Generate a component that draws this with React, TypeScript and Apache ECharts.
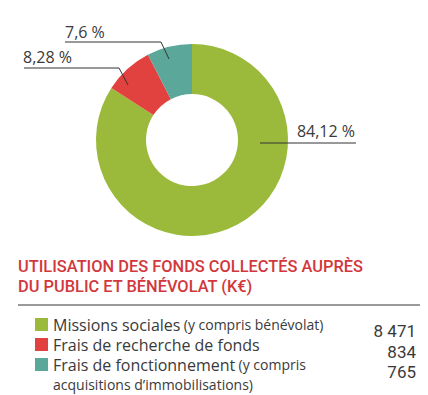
import React, { useEffect, useRef } from "react";
import * as echarts from "echarts";

// ---- data ----
const categories = ["Missions sociales", "Frais de recherche de fonds", "Frais de fonctionnement"];
const notes = ["(y compris bénévolat)", "", "(y compris"];
const noteContinuation = "acquisitions d\u2019immobilisations)";
const values = [8471, 834, 765];
const colors = ["#9BBA3B", "#E2423F", "#5BA89B"];
const titleLines = ["UTILISATION DES FONDS COLLECTÉS AUPRÈS", "DU PUBLIC ET BÉNÉVOLAT (K€)"];

// ---- layout (not data) ----
const CENTER: [number, number] = [192, 140];
const RADIUS: [number, number] = [46, 96];
const LABEL_LAYOUT = [
  { x: 355, y: 131, align: "right", points: [[260, 143], [356, 143]] },
  { x: 23, y: 57, align: "left", points: [[128, 85], [119, 68], [24, 68]] },
  { x: 65, y: 32, align: "left", points: [[169, 59], [161, 42], [65, 42]] },
];

const total = values.reduce((a, b) => a + b, 0);
const fmtPct = (v: number) =>
  String(Math.round((v / total) * 10000) / 100).replace(".", ",") + " %";
const fmtNum = (v: number) => String(v).replace(/\B(?=(\d{3})+(?!\d))/g, " ");

const TEXT_FONT = "'Open Sans', 'Noto Sans', sans-serif";

export default function App() {
  const ref = useRef<HTMLDivElement>(null);
  useEffect(() => {
    if (!ref.current) return;
    const chart = echarts.init(ref.current, null, { renderer: "svg" });
    const option: any = {
      animation: false,
      backgroundColor: "#ffffff",
      title: {
        text: titleLines.join("\n"),
        left: 18,
        top: 256,
        padding: 0,
        textStyle: {
          fontFamily: "Roboto, sans-serif",
          fontSize: 16.4,
          fontWeight: 500,
          color: "#D2373C",
          lineHeight: 20,
        },
      },
      legend: {
        orient: "vertical",
        left: 35,
        top: 314.5,
        padding: 0,
        itemGap: 0,
        itemWidth: 13,
        itemHeight: 13,
        icon: "rect",
        selectedMode: false,
        data: categories,
        formatter: (name: string) => {
          const i = categories.indexOf(name);
          return notes[i] ? `{a|${name}} {b|${notes[i]}}` : `{a|${name}}`;
        },
        textStyle: {
          color: "#3a3a3a",
          lineHeight: 20,
          rich: {
            a: { fontFamily: TEXT_FONT, fontSize: 16, color: "#3a3a3a", lineHeight: 20 },
            b: { fontFamily: TEXT_FONT, fontSize: 14, color: "#3a3a3a", lineHeight: 20 },
          },
        },
      },
      graphic: [
        {
          type: "line",
          shape: { x1: 18, y1: 305, x2: 420, y2: 305 },
          style: { stroke: "#9a9a9a", lineWidth: 2 },
          silent: true,
        },
        ...LABEL_LAYOUT.map((l) => ({
          type: "polyline",
          z: 100,
          shape: { points: l.points },
          style: { stroke: "#333333", lineWidth: 1, fill: null },
          silent: true,
        })),
        {
          type: "text",
          x: 53,
          y: 384,
          style: {
            text: noteContinuation,
            font: `14px ${TEXT_FONT}`,
            fill: "#3a3a3a",
            verticalAlign: "middle",
            align: "left",
          },
          silent: true,
        },
        ...values.map((v, i) => ({
          type: "text",
          x: 416,
          y: 331 + i * 20.5,
          style: {
            text: fmtNum(v),
            font: `17px Roboto, sans-serif`,
            fill: "#3a3a3a",
            align: "right",
            verticalAlign: "middle",
          },
          silent: true,
        })),
      ],
      series: [
        {
          type: "pie",
          center: CENTER,
          radius: RADIUS,
          startAngle: 90,
          clockwise: true,
          avoidLabelOverlap: false,
          silent: true,
          emphasis: { disabled: true },
          data: categories.map((name, i) => ({
            name,
            value: values[i],
            itemStyle: { color: colors[i] },
          })),
          label: {
            show: true,
            position: "outside",
            formatter: (p: any) => fmtPct(p.value),
            fontFamily: TEXT_FONT,
            fontSize: 16,
            color: "#3a3a3a",
          },
          labelLine: { show: false },
          labelLayout: (params: any) => {
            const l = LABEL_LAYOUT[params.dataIndex];
            return {
              x: l.x,
              y: l.y,
              align: l.align,
              verticalAlign: "middle",
            };
          },
        },
      ],
    };
    chart.setOption(option);
    return () => chart.dispose();
  }, []);
  return (
    <div
      ref={ref}
      style={{ position: "absolute", left: 0, top: 0, width: 428, height: 395 }}
    />
  );
}
